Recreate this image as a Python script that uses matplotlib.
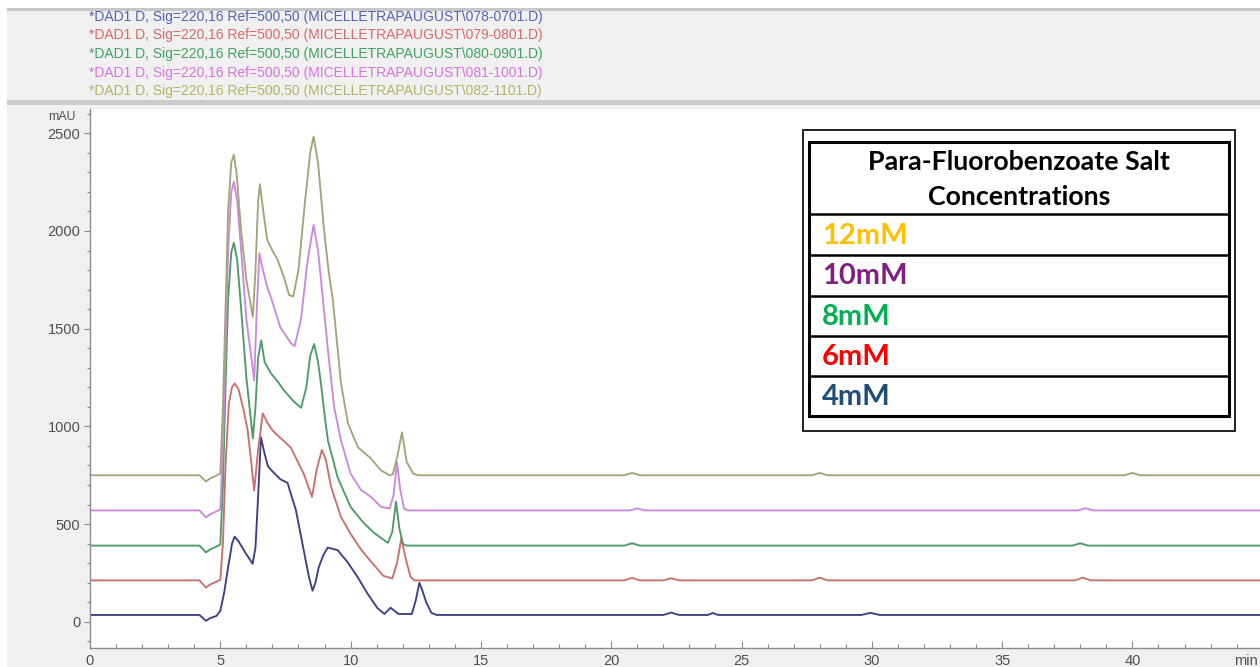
import matplotlib
matplotlib.use("Agg")
import matplotlib.pyplot as plt
from matplotlib.patches import Rectangle
from matplotlib.ticker import MultipleLocator

# ---------------- data ----------------
concentrations = ["12mM", "10mM", "8mM", "6mM", "4mM"]
legend_title = ["Para-Fluorobenzoate Salt", "Concentrations"]
header_lines = [
    "*DAD1 D, Sig=220,16 Ref=500,50 (MICELLETRAPAUGUST\\078-0701.D)",
    "*DAD1 D, Sig=220,16 Ref=500,50 (MICELLETRAPAUGUST\\079-0801.D)",
    "*DAD1 D, Sig=220,16 Ref=500,50 (MICELLETRAPAUGUST\\080-0901.D)",
    "*DAD1 D, Sig=220,16 Ref=500,50 (MICELLETRAPAUGUST\\081-1001.D)",
    "*DAD1 D, Sig=220,16 Ref=500,50 (MICELLETRAPAUGUST\\082-1101.D)",
]
x_ticks = [0, 5, 10, 15, 20, 25, 30, 35, 40]
y_ticks = [0, 500, 1000, 1500, 2000, 2500]

t_4mM = [0, 4.2, 4.45, 4.6, 4.85, 5.0, 5.15, 5.3, 5.45, 5.55, 5.7, 5.98, 6.24, 6.35, 6.45,
         6.56, 6.7, 6.83, 7.0, 7.3, 7.58, 7.9, 8.2, 8.4, 8.54, 8.65, 8.78, 8.95, 9.12, 9.5,
         9.88, 10.27, 10.65, 11.03, 11.3, 11.53, 11.84, 12.35, 12.5, 12.64, 12.78, 12.9, 13.1, 13.3,
         22.0, 22.3, 22.6, 23.7, 23.9, 24.1, 29.6, 29.95, 30.3, 45]
v_4mM = [35, 35, 5, 18, 30, 56, 150, 280, 400, 436, 412, 350, 297, 380, 640,
         944, 860, 795, 770, 730, 711, 572, 367, 230, 159, 200, 280, 340, 380, 367,
         306, 229, 144, 70, 40, 72, 40, 40, 110, 200, 150, 100, 46, 35,
         35, 47, 35, 35, 45, 35, 35, 46, 35, 35]

t_6mM = [0, 4.2, 4.45, 4.6, 4.85, 5.0, 5.1, 5.2, 5.33, 5.45, 5.55, 5.7, 5.9, 6.05, 6.2,
         6.3, 6.45, 6.63, 6.8, 7.0, 7.2, 7.7, 8.2, 8.52, 8.7, 8.9, 9.05, 9.25, 9.63, 10.0,
         10.4, 10.77, 11.26, 11.6, 11.78, 11.95, 12.1, 12.3, 12.45,
         20.5, 20.8, 21.1, 22.0, 22.3, 22.6, 27.7, 28.0, 28.3, 37.8, 38.1, 38.4, 45]
v_6mM = [212, 212, 175, 190, 205, 215, 400, 800, 1120, 1200, 1220, 1190, 1080, 980, 800,
         672, 880, 1067, 1020, 980, 954, 893, 758, 639, 780, 880, 830, 691, 537, 450,
         370, 310, 235, 222, 300, 430, 330, 230, 212,
         212, 225, 212, 212, 223, 212, 212, 226, 212, 212, 226, 212, 212]

t_8mM = [0, 4.2, 4.45, 4.6, 4.85, 5.0, 5.1, 5.2, 5.3, 5.42, 5.52, 5.65, 5.8, 6.0, 6.25,
         6.35, 6.45, 6.57, 6.7, 6.94, 7.2, 7.44, 7.8, 8.1, 8.3, 8.45, 8.6, 8.75, 8.86, 9.0,
         9.13, 9.5, 10.0, 10.5, 10.9, 11.43, 11.6, 11.74, 11.87, 12.0, 12.15,
         20.5, 20.8, 21.1, 37.7, 38.0, 38.3, 45]
v_8mM = [390, 390, 355, 370, 385, 395, 700, 1200, 1650, 1890, 1940, 1850, 1600, 1250, 939,
         1100, 1350, 1441, 1330, 1272, 1230, 1185, 1130, 1095, 1200, 1360, 1422, 1330, 1221, 1060,
         928, 740, 588, 506, 455, 404, 460, 615, 480, 400, 390,
         390, 402, 390, 390, 402, 390, 390]

t_10mM = [0, 4.2, 4.45, 4.6, 4.85, 5.0, 5.1, 5.2, 5.3, 5.42, 5.52, 5.65, 5.8, 6.0, 6.3,
          6.4, 6.5, 6.6, 6.8, 6.94, 7.3, 7.71, 7.85, 8.1, 8.35, 8.58, 8.75, 8.94, 9.13, 9.37,
          9.63, 10.0, 10.4, 10.78, 11.17, 11.5, 11.65, 11.78, 11.9, 12.05, 12.2,
          20.7, 21.0, 21.3, 37.9, 38.2, 38.5, 45]
v_10mM = [570, 570, 534, 550, 565, 575, 900, 1400, 1900, 2200, 2252, 2150, 1900, 1550, 1236,
          1600, 1887, 1820, 1713, 1662, 1508, 1426, 1410, 1550, 1850, 2031, 1900, 1647, 1390, 1097,
          928, 758, 675, 639, 588, 580, 650, 815, 680, 580, 570,
          570, 580, 570, 570, 581, 570, 570]

t_12mM = [0, 4.2, 4.45, 4.6, 4.85, 5.0, 5.1, 5.2, 5.3, 5.42, 5.52, 5.62, 5.8, 6.0, 6.25,
          6.35, 6.45, 6.52, 6.65, 6.8, 7.0, 7.2, 7.45, 7.64, 7.8, 8.0, 8.25, 8.45, 8.58, 8.75,
          8.97, 9.15, 9.32, 9.63, 9.9, 10.28, 10.78, 11.16, 11.5, 11.62, 11.8, 11.97, 12.15, 12.4, 12.6,
          20.5, 20.8, 21.1, 27.7, 28.0, 28.3, 39.7, 40.0, 40.3, 45]
v_12mM = [750, 750, 718, 733, 748, 760, 1100, 1600, 2100, 2350, 2390, 2300, 2000, 1750, 1560,
          1800, 2150, 2240, 2100, 1955, 1900, 1852, 1760, 1672, 1665, 1800, 2150, 2400, 2483, 2350,
          2021, 1800, 1647, 1221, 1016, 893, 836, 775, 750, 755, 850, 970, 820, 758, 750,
          750, 762, 750, 750, 762, 750, 750, 762, 750, 750]

# ---------------- styles ----------------
W, H = 1260, 667
trace_colors = ["#3d3f84", "#c8706c", "#4e9a68", "#cc88dc", "#a4a47a"]   # 4,6,8,10,12 mM
header_colors = ["#5464b4", "#d86a66", "#3fa262", "#d874e0", "#b4b466"]
legend_colors = ["#FFC000", "#7F1F7F", "#00B050", "#FF0000", "#1F4E79"]
tick_col = "#505050"
sans = ["Liberation Sans", "DejaVu Sans"]

fig = plt.figure(figsize=(W / 100, H / 100), dpi=100, facecolor="white")

# background layer (pixel coordinates)
bg = fig.add_axes([0, 0, 1, 1], zorder=0)
bg.set_xlim(0, W)
bg.set_ylim(H, 0)
bg.axis("off")
bg.add_patch(Rectangle((7, 8), W - 7, H - 8, facecolor="#f0f0f0", edgecolor="none"))
bg.add_patch(Rectangle((7, 8), W - 7, 3, facecolor="#c6c6c6", edgecolor="none"))
bg.add_patch(Rectangle((7, 100), W - 7, 5, facecolor="#cbcbcb", edgecolor="none"))
for i, (txt, c) in enumerate(zip(header_lines, header_colors)):
    bg.text(89, 17 + i * 18.5, txt, color=c, fontsize=10.0, family=sans,
            ha="left", va="center")

# plot axes
ax_left, ax_top, ax_bottom = 90, 109, 648
ax = fig.add_axes([ax_left / W, (H - ax_bottom) / H, (W - ax_left) / W,
                   (ax_bottom - ax_top) / H], zorder=1)
ax.set_facecolor("white")
series = [(t_4mM, v_4mM), (t_6mM, v_6mM), (t_8mM, v_8mM), (t_10mM, v_10mM), (t_12mM, v_12mM)]
for (t, v), c in zip(series, trace_colors):
    ax.plot(t, v, color=c, lw=1.35, solid_joinstyle="round")

px_per_min = 26.06
ax.set_xlim(0, (W - ax_left) / px_per_min)
px_per_unit = 0.1954
y0_px = 621.8
ax.set_ylim((y0_px - ax_bottom) / px_per_unit, (y0_px - ax_top) / px_per_unit)

ax.set_xticks(x_ticks)
ax.set_xticklabels([str(x) for x in x_ticks])
ax.xaxis.set_minor_locator(MultipleLocator(1))
ax.set_yticks(y_ticks)
ax.set_yticklabels([str(y) for y in y_ticks])
ax.yaxis.set_minor_locator(MultipleLocator(100))
for s in ["top", "right"]:
    ax.spines[s].set_visible(False)
for s in ["left", "bottom"]:
    ax.spines[s].set_color("#8a8a8a")
    ax.spines[s].set_linewidth(1.0)
ax.tick_params(axis="x", which="major", direction="in", length=5, width=0.8,
               color="#8a8a8a", labelsize=10.5, labelcolor=tick_col, pad=4)
ax.tick_params(axis="x", which="minor", direction="in", length=3, width=0.8, color="#8a8a8a")
ax.tick_params(axis="y", which="major", direction="out", length=4, width=0.8,
               color="#8a8a8a", labelsize=10.5, labelcolor=tick_col, pad=3)
ax.tick_params(axis="y", which="minor", direction="out", length=2.5, width=0.8, color="#8a8a8a")
for lab in ax.get_xticklabels() + ax.get_yticklabels():
    lab.set_family(sans)

# foreground layer (pixel coordinates)
fg = fig.add_axes([0, 0, 1, 1], zorder=3)
fg.set_xlim(0, W)
fg.set_ylim(H, 0)
fg.axis("off")
fg.patch.set_alpha(0)
fg.text(62, 117, "mAU", fontsize=8.8, color=tick_col, family=sans, ha="center", va="center")
fg.text(1258, 661, "min", fontsize=10.5, color=tick_col, family=sans, ha="right", va="center")

# legend table
fg.add_patch(Rectangle((803, 130), 432, 301, facecolor="white", edgecolor="#222222", lw=1.4))
fg.add_patch(Rectangle((809, 142), 420, 274, facecolor="none", edgecolor="black", lw=2.2))
row_edges = [214, 255, 296, 336, 376, 416]
for y in row_edges[:-1]:
    fg.plot([809, 1229], [y, y], color="black", lw=1.8, solid_capstyle="butt")
lfont = ["Lato", "DejaVu Sans"]
fg.text(1019, 162, legend_title[0], fontsize=19.3, fontweight="bold", family=lfont,
        ha="center", va="center", color="black")
fg.text(1019, 197, legend_title[1], fontsize=19.3, fontweight="bold", family=lfont,
        ha="center", va="center", color="black")
for i, (lab, c) in enumerate(zip(concentrations, legend_colors)):
    yc = (row_edges[i] + row_edges[i + 1]) / 2 + 1
    fg.text(822, yc, lab, fontsize=21, fontweight="bold", family=lfont,
            ha="left", va="center", color=c)

fig.savefig("out.png", dpi=100, facecolor="white")
